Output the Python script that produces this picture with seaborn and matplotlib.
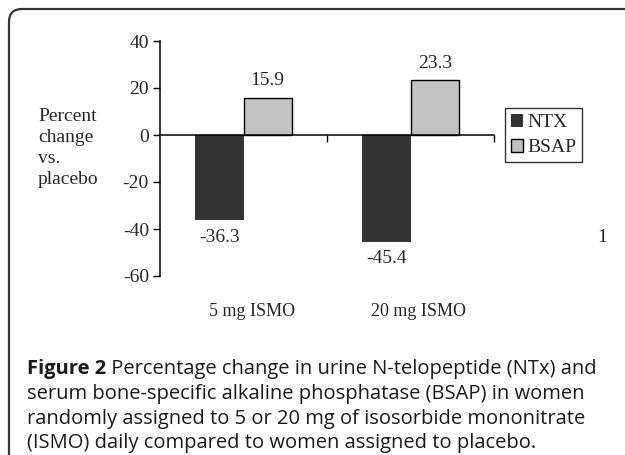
import matplotlib
matplotlib.use("Agg")
import matplotlib.pyplot as plt
import matplotlib.transforms as mtransforms
from matplotlib.patches import FancyBboxPatch
import pandas as pd
import seaborn as sns

# дані з рисунка
groups = ["5 mg ISMO", "20 mg ISMO"]
series = ["NTX", "BSAP"]
ntx = [-36.3, -45.4]
bsap = [15.9, 23.3]
yticks = [40, 20, 0, -20, -40, -60]

caption_bold = "Figure 2"
caption_lines = [
    " Percentage change in urine N-telopeptide (NTx) and",
    "serum bone-specific alkaline phosphatase (BSAP) in women",
    "randomly assigned to 5 or 20 mg of isosorbide mononitrate",
    "(ISMO) daily compared to women assigned to placebo.",
]

df = pd.DataFrame({
    "group": groups * 2,
    "marker": [series[0]] * len(groups) + [series[1]] * len(groups),
    "value": ntx + bsap,
})

sns.set_style("white")
plt.rcParams["font.family"] = ["Liberation Serif", "DejaVu Serif"]
FS = 14

fig = plt.figure(figsize=(6.25, 4.55), dpi=100)
W, H = 625, 455

# рамка з заокругленими кутами
frame = FancyBboxPatch((9, -30), 660, H - 9 + 30,
                       boxstyle="round,pad=0,rounding_size=13",
                       transform=mtransforms.IdentityTransform(),
                       facecolor="none", edgecolor="#333333", linewidth=1.6, zorder=-1)
fig.patches.append(frame)

ax = fig.add_axes([160 / W, 1 - 276 / H, (494 - 160) / W, (276 - 41) / H])
ax.set_facecolor("none")

sns.barplot(data=df, x="group", y="value", hue="marker",
            palette={"NTX": "#333333", "BSAP": "#c2c2c2"},
            width=0.58, legend=False, ax=ax, linewidth=0)

for bar in ax.containers[1]:
    bar.set_edgecolor("black")
    bar.set_linewidth(1.0)

for cont in ax.containers:
    ax.bar_label(cont, fmt="%.1f", padding=6, fontsize=FS)

ax.set_ylim(-60, 40)
ax.set_xlim(-0.5, 1.5)
ax.set_yticks(yticks)
ax.set_yticklabels([str(v) for v in yticks], fontsize=FS)
ax.tick_params(axis="y", direction="out", length=5, width=1, color="black", pad=3, left=True)

ax.spines["top"].set_visible(False)
ax.spines["right"].set_visible(False)
ax.spines["left"].set_color("black")
ax.spines["left"].set_linewidth(1.1)
ax.spines["bottom"].set_position(("data", 0))
ax.spines["bottom"].set_color("black")
ax.spines["bottom"].set_linewidth(1.1)
ax.set_xticks([0.5, 1.5])
ax.set_xticklabels(["", ""])
ax.tick_params(axis="x", direction="out", length=5, width=1, color="black", bottom=True)
ax.set_xlabel("")
ax.set_ylabel("")

# підписи категорій під графіком
trans = mtransforms.blended_transform_factory(ax.transData, ax.transAxes)
for i, g in enumerate(groups):
    ax.text(i + 0.05, -0.15, g, transform=trans, ha="center", va="center", fontsize=FS - 1)

# легенда
ax.legend(ax.containers, series, loc="upper left",
          bbox_to_anchor=(505 / W, 1 - 108 / H), bbox_transform=fig.transFigure,
          frameon=True, fancybox=False, edgecolor="black", fontsize=FS,
          handlelength=0.65, handleheight=0.65, handletextpad=0.2,
          borderpad=0.3, labelspacing=0.4, borderaxespad=0)
ax.get_legend().get_frame().set_linewidth(1.0)

fig.text(38 / W, 1 - 148 / H, "Percent\nchange\nvs.\nplacebo", ha="left", va="center",
         multialignment="left", fontsize=FS, linespacing=1.3)
fig.text(602 / W, 1 - 238 / H, "1", ha="center", va="center", fontsize=FS)

# підпис рисунка
cap_y = [369, 394, 419, 443]
cap_font = ["Open Sans", "DejaVu Sans"]
CFS = 14.5
cap_col = "#1a1a1a"
t = fig.text(27 / W, 1 - cap_y[0] / H, caption_bold, ha="left", va="center",
             fontsize=CFS, fontweight="bold", family=cap_font, color=cap_col)
fig.add_artist(matplotlib.text.Annotation(caption_lines[0], xy=(1, 0), xycoords=t,
                                          ha="left", va="bottom", fontsize=CFS,
                                          family=cap_font, color=cap_col))
for line, y in zip(caption_lines[1:], cap_y[1:]):
    fig.text(27 / W, 1 - y / H, line, ha="left", va="center", fontsize=CFS,
             family=cap_font, color=cap_col)

fig.savefig("out.png", dpi=100)
